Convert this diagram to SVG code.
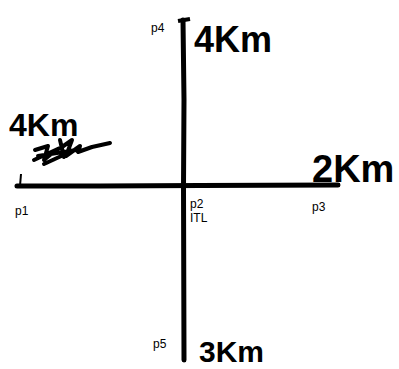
<svg xmlns="http://www.w3.org/2000/svg" width="399" height="369" viewBox="0 0 399 369">
<style>
.lbl{font-family:"Liberation Sans",Arial,sans-serif;font-size:12px;fill:#000}
.hand{font-family:"Liberation Sans",Arial,sans-serif;font-weight:bold;fill:#000}
.ln{stroke:#000;stroke-width:5;stroke-linecap:round;fill:none}
.scr{stroke:#000;stroke-width:4;fill:none;stroke-linecap:round;stroke-linejoin:round}
</style>
<rect width="399" height="369" fill="#fff"/>
<g id="connectors">
<path class="ln" d="M17 186 L100 186 L200 185.5 L338 185"/>
<path class="ln" d="M183 20 L184 100 L183.5 186 L184 360"/>
<path d="M20 186 L21 174" stroke="#000" stroke-width="2" fill="none"/>
<path d="M178 21 L190 19" stroke="#000" stroke-width="4" fill="none"/>
</g>
<g id="p1">
<text class="lbl" x="15" y="215">p1</text>
<text class="hand" x="9" y="136" font-size="32">4Km</text>
<path class="scr" d="M35 150 L48 146 L44 160 L56 150 M34 160 L62 147 L72 140 L66 156 L80 146 L78 152 L92 147 L110 143 M38 156 L76 150 M44 164 L70 152 M60 140 L64 157"/>
</g>
<g id="p2">
<text class="lbl" x="190" y="208">p2</text>
<text class="lbl" x="190" y="222">ITL</text>
</g>
<g id="p3">
<text class="lbl" x="312" y="211">p3</text>
<text class="hand" x="312" y="182" font-size="38">2Km</text>
</g>
<g id="p4">
<text class="lbl" x="151" y="32">p4</text>
<text class="hand" x="194" y="52" font-size="36">4Km</text>
</g>
<g id="p5">
<text class="lbl" x="153" y="348">p5</text>
<text class="hand" x="199" y="362" font-size="30">3Km</text>
</g>
</svg>
